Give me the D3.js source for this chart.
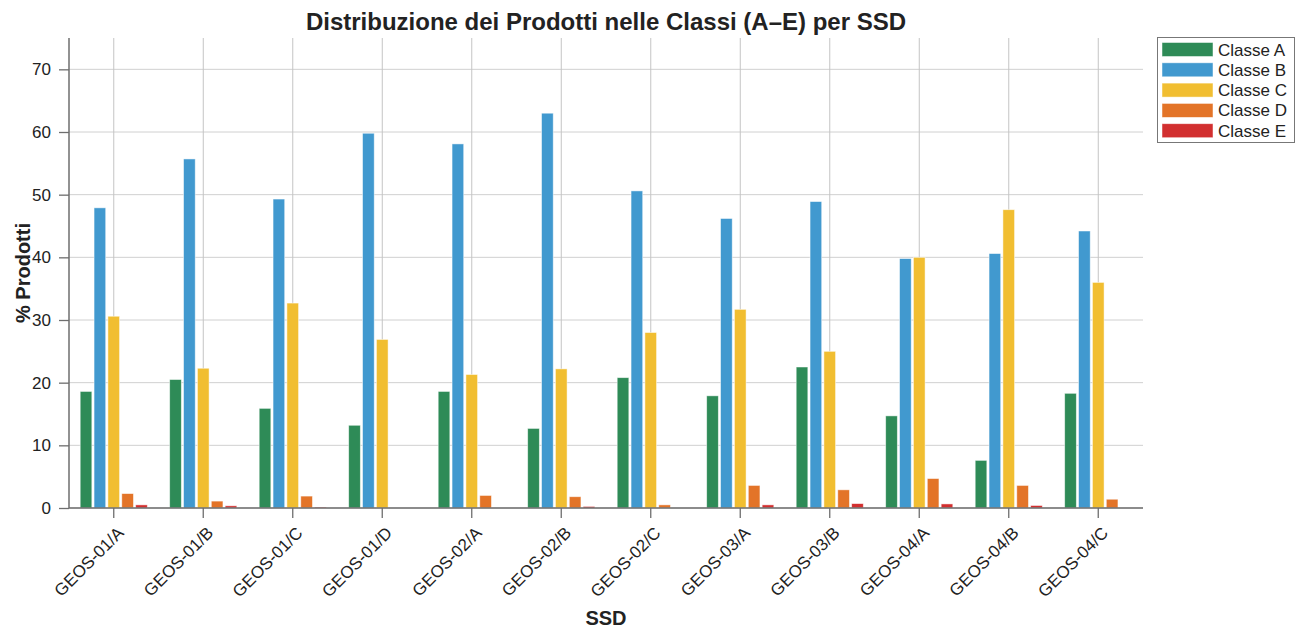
<!DOCTYPE html>
<html>
<head>
<meta charset="utf-8">
<script src="https://cdn.jsdelivr.net/npm/d3@7"></script>
<style>
  html, body { margin: 0; padding: 0; background: #fff; }
  svg { display: block; font-family: "Liberation Sans", Arial, Helvetica, sans-serif; }
</style>
</head>
<body>
<svg id="chart" width="1297" height="628"></svg>
<script>
const ssd = ["GEOS-01/A","GEOS-01/B","GEOS-01/C","GEOS-01/D","GEOS-02/A","GEOS-02/B","GEOS-02/C","GEOS-03/A","GEOS-03/B","GEOS-04/A","GEOS-04/B","GEOS-04/C"];
const classNames = ["Classe A","Classe B","Classe C","Classe D","Classe E"];
const classA = [18.6,20.5,15.9,13.2,18.6,12.7,20.8,17.9,22.5,14.7,7.6,18.3];
const classB = [47.9,55.7,49.3,59.8,58.1,63.0,50.6,46.2,48.9,39.8,40.6,44.2];
const classC = [30.6,22.3,32.7,26.9,21.3,22.2,28.0,31.7,25.0,40.0,47.6,36.0];
const classD = [2.3,1.1,1.9,0,2.0,1.8,0.5,3.6,2.9,4.7,3.6,1.4];
const classE = [0.5,0.35,0.15,0,0,0.25,0,0.5,0.7,0.65,0.4,0];
const yTicks = [0,10,20,30,40,50,60,70];
const colors = ["#2E8B57","#4199CF","#F1BE31","#E37428","#D22F2F"];

const series = [classA, classB, classC, classD, classE];

const svg = d3.select("#chart");
const L = 69, R = 1143, T = 38, B = 508;

const x0 = d3.scaleBand().domain(ssd).range([L, R]).paddingInner(0.25).paddingOuter(0.125);
const x1 = d3.scaleBand().domain(classNames).range([0, x0.bandwidth()]).paddingInner(0.16).paddingOuter(0);
const y = d3.scaleLinear().domain([0, 75]).range([B, T]);
const color = d3.scaleOrdinal().domain(classNames).range(colors);

// grid
const grid = svg.append("g");
grid.selectAll("line.h").data(yTicks).join("line")
  .attr("x1", L).attr("x2", R)
  .attr("y1", d => y(d)).attr("y2", d => y(d))
  .attr("stroke", "#d0d0d0").attr("stroke-width", 1);
grid.selectAll("line.v").data(ssd).join("line")
  .attr("x1", d => x0(d) + x0.bandwidth()/2).attr("x2", d => x0(d) + x0.bandwidth()/2)
  .attr("y1", T).attr("y2", B)
  .attr("stroke", "#c4c4c4").attr("stroke-width", 1);

// bars
const groups = svg.append("g").selectAll("g").data(ssd).join("g")
  .attr("transform", d => `translate(${x0(d)},0)`);
groups.selectAll("rect").data((d, i) => classNames.map((c, k) => ({c, v: series[k][i]})))
  .join("rect")
  .attr("x", d => x1(d.c))
  .attr("width", x1.bandwidth())
  .attr("y", d => y(d.v))
  .attr("height", d => Math.max(0, B - y(d.v)))
  .attr("fill", d => color(d.c))
  .attr("stroke", "#ffffff").attr("stroke-opacity", 0.6).attr("stroke-width", 0.8);

// axes
const yAxis = d3.axisLeft(y).tickValues(yTicks).tickSize(10).tickPadding(8);
const gy = svg.append("g").attr("transform", `translate(${L},0)`).call(yAxis);
gy.select(".domain").attr("stroke", "#6e6e6e").attr("stroke-width", 1.5).attr("d", `M0,${T}V${B}`);
gy.selectAll(".tick line").attr("stroke", "#6e6e6e").attr("stroke-width", 1.3);
gy.selectAll(".tick text").attr("font-size", 17).attr("fill", "#222")
  .attr("font-family", "'Liberation Sans', Arial, sans-serif");

const xAxis = d3.axisBottom(x0).tickSize(10).tickFormat("");
const gx = svg.append("g").attr("transform", `translate(0,${B})`).call(xAxis);
gx.select(".domain").attr("stroke", "#6e6e6e").attr("stroke-width", 1.5).attr("d", `M${L},0H${R}`);
gx.selectAll(".tick line").attr("stroke", "#6e6e6e").attr("stroke-width", 1.3);

svg.append("g").selectAll("text").data(ssd).join("text")
  .attr("transform", d => `translate(${x0(d) + x0.bandwidth()/2 + 11},${B + 26}) rotate(-45)`)
  .attr("text-anchor", "end")
  .attr("font-size", 17).attr("fill", "#222")
  .text(d => d);

// titles
svg.append("text").attr("x", (L + R)/2).attr("y", 30)
  .attr("text-anchor", "middle").attr("font-size", 24).attr("font-weight", "bold").attr("fill", "#222")
  .text("Distribuzione dei Prodotti nelle Classi (A\u2013E) per SSD");
svg.append("text").attr("transform", `translate(30,${(T + B)/2}) rotate(-90)`)
  .attr("text-anchor", "middle").attr("font-size", 20).attr("font-weight", "bold").attr("fill", "#222")
  .text("% Prodotti");
svg.append("text").attr("x", (L + R)/2).attr("y", 625)
  .attr("text-anchor", "middle").attr("font-size", 20).attr("font-weight", "bold").attr("fill", "#222")
  .text("SSD");

// legend
const lg = svg.append("g");
lg.append("rect").attr("x", 1157.5).attr("y", 37.5).attr("width", 137).attr("height", 105)
  .attr("fill", "#fff").attr("stroke", "#777").attr("stroke-width", 1);
const items = lg.selectAll("g.item").data(classNames).join("g")
  .attr("transform", (d, i) => `translate(1162,${42.5 + i * 20.3})`);
items.append("rect").attr("width", 51).attr("height", 14)
  .attr("fill", d => color(d)).attr("stroke", "#fff").attr("stroke-opacity", 0.6).attr("stroke-width", 0.8);
items.append("text").attr("x", 56).attr("y", 13)
  .attr("font-size", 17).attr("fill", "#222").text(d => d);
</script>
</body>
</html>
